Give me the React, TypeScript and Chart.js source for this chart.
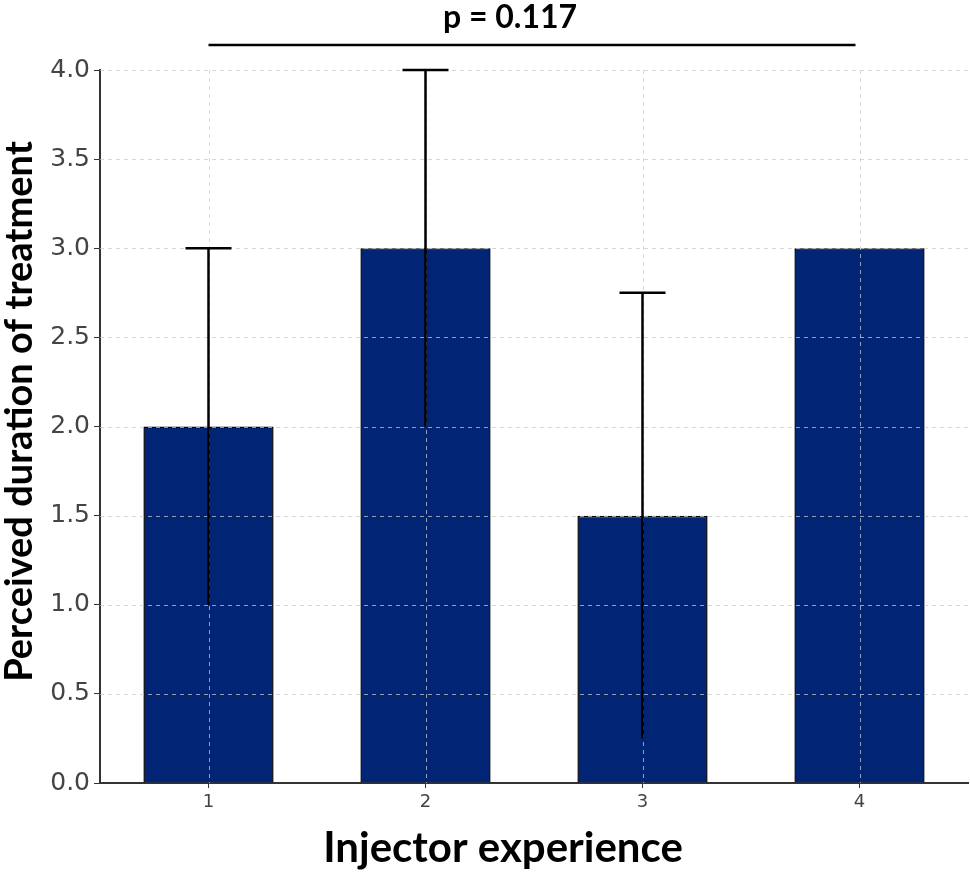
import React, { useEffect, useRef } from "react";
import { Chart, registerables } from "chart.js";

Chart.register(...registerables);

const categories = ["1", "2", "3", "4"];
const means = [2.0, 3.0, 1.5, 3.0];
const errLow = [1.0, 2.0, 0.25, 3.0];
const errHigh = [3.0, 4.0, 2.75, 3.0];
const yTicks = [0, 0.5, 1, 1.5, 2, 2.5, 3, 3.5, 4];
const pText = "p = 0.117";
const xTitle = "Injector experience";
const yTitle = "Perceived duration of treatment";

const overlayPlugin = {
  id: "overlay",
  afterDatasetsDraw(chart: any) {
    const { ctx, chartArea, scales } = chart;
    const xs = scales.x;
    const ys = scales.y;
    ctx.save();
    // grid on top of bars
    ctx.strokeStyle = "rgba(200,200,200,0.75)";
    ctx.lineWidth = 1;
    ctx.setLineDash([4, 4]);
    yTicks.forEach((v) => {
      if (v === 0) return;
      const y = Math.round(ys.getPixelForValue(v)) + 0.5;
      ctx.beginPath();
      ctx.moveTo(chartArea.left, y);
      ctx.lineTo(chartArea.right, y);
      ctx.stroke();
    });
    categories.forEach((_, i) => {
      const x = Math.round(xs.getPixelForValue(i)) + 0.5;
      ctx.beginPath();
      ctx.moveTo(x, chartArea.top);
      ctx.lineTo(x, chartArea.bottom);
      ctx.stroke();
    });
    ctx.setLineDash([]);
    // error bars
    const meta = chart.getDatasetMeta(0);
    ctx.strokeStyle = "#000";
    ctx.lineWidth = 2.5;
    meta.data.forEach((bar: any, i: number) => {
      if (errHigh[i] === errLow[i]) return;
      const x = bar.x;
      const yl = ys.getPixelForValue(errLow[i]);
      const yh = ys.getPixelForValue(errHigh[i]);
      ctx.beginPath();
      ctx.moveTo(x, yl);
      ctx.lineTo(x, yh);
      ctx.stroke();
      ctx.beginPath();
      ctx.moveTo(x - 23, yh);
      ctx.lineTo(x + 23, yh);
      ctx.stroke();
    });
    // significance bracket
    const x0 = xs.getPixelForValue(0);
    const x3 = xs.getPixelForValue(3) - 4;
    const yb = chartArea.top - 25;
    ctx.lineWidth = 2.5;
    ctx.beginPath();
    ctx.moveTo(x0, yb);
    ctx.lineTo(x3, yb);
    ctx.stroke();
    ctx.fillStyle = "#000";
    ctx.font = "bold 32px Lato";
    ctx.textAlign = "center";
    ctx.textBaseline = "alphabetic";
    ctx.fillText(pText, (x0 + x3) / 2 - 22, chartArea.top - 42);
    // axis titles
    const midX = (chartArea.left + chartArea.right) / 2;
    const midY = (chartArea.top + chartArea.bottom) / 2;
    ctx.font = "bold 42px Lato";
    ctx.fillText(xTitle, midX - 31, chartArea.bottom + 79);
    ctx.save();
    ctx.translate(chartArea.left - 68, midY - 15);
    ctx.rotate(-Math.PI / 2);
    ctx.font = "bold 38px Lato";
    ctx.fillText(yTitle, 0, 0);
    ctx.restore();
    ctx.restore();
  },
};

export default function App() {
  const ref = useRef<HTMLCanvasElement | null>(null);
  useEffect(() => {
    document.body.style.margin = "0";
    const chart = new Chart(ref.current as HTMLCanvasElement, {
      type: "bar",
      data: {
        labels: categories,
        datasets: [
          {
            data: means,
            backgroundColor: "#012574",
            borderColor: "#000",
            borderWidth: 1.5,
            barPercentage: 0.6,
            categoryPercentage: 1.0,
          },
        ],
      },
      options: {
        animation: false,
        responsive: false,
        layout: { padding: { top: 70, right: 2, left: 0, bottom: 0 } },
        plugins: { legend: { display: false }, tooltip: { enabled: false } },
        scales: {
          x: {
            afterFit: (s: any) => {
              s.height = 91;
            },
            grid: {
              offset: false,
              drawOnChartArea: false,
              drawTicks: true,
              tickLength: 5,
              tickColor: "#333",
            },
            border: { display: true, color: "#333", width: 2 },
            ticks: { color: "#444", font: { family: "DejaVu Sans", size: 18 }, padding: 4 },
          },
          y: {
            min: 0,
            max: 4,
            afterFit: (s: any) => {
              s.width = 100;
            },
            afterBuildTicks: (s: any) => {
              s.ticks = yTicks.map((v) => ({ value: v }));
            },
            grid: {
              drawOnChartArea: false,
              drawTicks: true,
              tickLength: 6,
              tickColor: "#333",
            },
            border: { display: true, color: "#333", width: 2 },
            ticks: {
              color: "#444",
              font: { family: "DejaVu Sans", size: 25 },
              padding: 4,
              callback: (v: any) => Number(v).toFixed(1),
            },
          },
        },
      },
      plugins: [overlayPlugin],
    } as any);
    return () => chart.destroy();
  }, []);
  return (
    <div style={{ width: 970, height: 874 }}>
      <canvas ref={ref} width={970} height={874} style={{ display: "block" }} />
    </div>
  );
}
